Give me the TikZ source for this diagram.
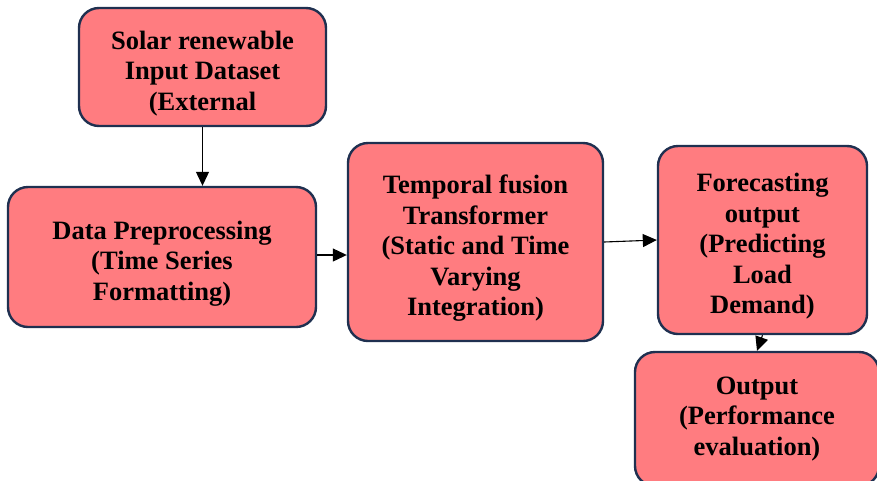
\documentclass[tikz,border=0pt]{standalone}
\usepackage{fontspec}
\setmainfont{Liberation Serif}
\usetikzlibrary{positioning,arrows.meta}
\definecolor{boxfill}{HTML}{FF7C80}
\definecolor{boxline}{HTML}{1F3050}
\newcommand{\topgap}{\rule{0pt}{31pt}}

\begin{document}
\begin{tikzpicture}[x=1pt, y=-1pt,
    stagebox/.style={rectangle, rounded corners=20pt, draw=boxline, fill=boxfill, line width=2.4pt,
        inner sep=0pt, align=center, font=\bfseries\fontsize{26.5}{30.5}\selectfont},
    flow/.style={->, >={Triangle[length=14pt,width=13pt]}, draw=black, line width=1.1pt}
    ]
        \useasboundingbox (0,0) rectangle (877,480);
        %Nodes
        \node[stagebox, minimum width=247pt, minimum height=118pt]
            (solar)  at (202.5,67)   {\topgap Solar renewable\\Input Dataset\\(External};
        \node[stagebox, minimum width=308pt, minimum height=140pt]
            (prep)   at (162,257)    {\topgap Data Preprocessing\\(Time Series\\Formatting)};
        \node[stagebox, minimum width=255pt, minimum height=198pt]
            (tft)    at (475.5,242)  {\topgap Temporal fusion\\Transformer\\(Static and Time\\Varying\\Integration)};
        \node[stagebox, minimum width=209pt, minimum height=188pt]
            (fore)   at (762.5,240)  {\topgap Forecasting\\output\\(Predicting\\Load\\Demand)};
        \node[stagebox, minimum width=244pt, minimum height=134pt]
            (out)    at (757,419)    {Output\\(Performance\\evaluation)};

        %Lines
        \draw[flow] (solar.south) -- (solar.south |- prep.north);
        \draw[flow] ([yshift=2pt]prep.east) -- ([yshift=2pt]prep.east -| tft.west);
        \draw[flow] (tft.east) -- (fore.west);
        \draw[flow] (fore.south) -- (out.north);
    \end{tikzpicture}
\end{document}
